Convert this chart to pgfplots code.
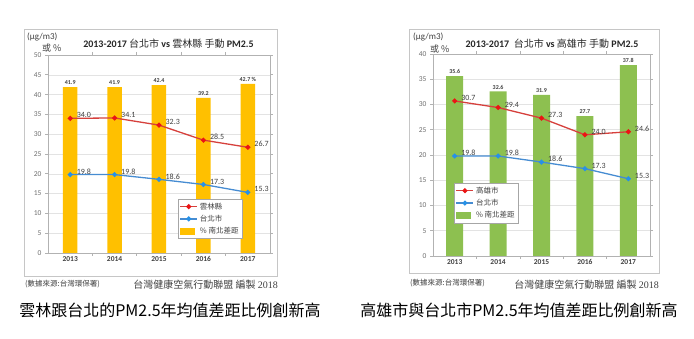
\documentclass[border=0pt]{standalone}
\usepackage{fontspec}
\setmainfont{Carlito}
\newfontfamily\cjk{Noto Sans CJK TC}
\newfontfamily\serif{Liberation Serif}
\usepackage{pgfplots}
\pgfplotsset{compat=1.18}
\definecolor{barY}{RGB}{255,192,0}
\definecolor{barG}{RGB}{141,192,80}
\definecolor{lnR}{RGB}{214,64,60}
\definecolor{mkR}{RGB}{235,20,20}
\definecolor{lnB}{RGB}{70,140,210}
\definecolor{mkB}{RGB}{40,145,230}
\definecolor{txt}{RGB}{64,64,64}
\definecolor{tick}{RGB}{110,110,110}
\pgfplotsset{
 mychart/.style={
  scale only axis, xmin=-0.5, xmax=4.5, ymin=0,
  xtick={0.5,1.5,2.5,3.5}, xticklabels={},
  extra x ticks={0,1,2,3,4},
  extra x tick labels={2013,2014,2015,2016,2017},
  extra x tick style={major tick length=0pt, grid=none},
  x tick label style={font=\bfseries\fontsize{7.5}{8}\selectfont, text=txt},
  y tick label style={font=\fontsize{7.5}{8}\selectfont, text=tick},
  /pgf/number format/assume math mode=true,
  ytick distance=5,
  ymajorgrids, grid style={gray!22, line width=0.5pt},
  axis line style={gray!60, line width=0.6pt},
  tick align=outside, major tick length=3pt,
  tick style={gray!60, line width=0.6pt},
  reverse legend,
  legend cell align=left,
  legend style={font=\cjk\fontsize{7.5}{8}\selectfont, draw=gray!70, fill=white,
    inner sep=1.5pt, row sep=0.5pt, text=txt},
 },
 linelab/.style={point meta=explicit symbolic, nodes near coords,
   every node near coord/.append style={anchor=west, xshift=5pt, yshift=3pt, inner sep=1pt,
   font=\fontsize{8}{9}\selectfont, text=txt}},
 barlab/.style={point meta=explicit symbolic, nodes near coords,
   every node near coord/.append style={font=\bfseries\fontsize{6}{7}\selectfont, text=txt, inner sep=2pt}},
}
\begin{document}
\begin{tikzpicture}
\useasboundingbox (0pt,0pt) rectangle (694pt,339pt);
\draw[gray!45, line width=0.8pt] (24pt,63pt) rectangle (277pt,310pt);
\draw[gray!45, line width=0.8pt] (409pt,66pt) rectangle (659pt,310pt);

% ---------- left chart ----------
\begin{axis}[mychart, at={(48pt,86pt)}, anchor=south west, width=222pt, height=198pt, ymax=50,
  legend style={at={(0.585,0.273)}, anchor=north west}]
\addplot[ybar, bar width=14.5pt, fill=barY, draw=none, barlab,
  legend image code/.code={\fill[barY] (0pt,-3.5pt) rectangle (15pt,3.5pt);}]
  coordinates {(0,41.9)[41.9] (1,41.9)[41.9] (2,42.4)[42.4] (3,39.2)[39.2] (4,42.7)[42.7 \%]};
\addlegendentry{\% 南北差距}
\addplot[lnB, line width=1.3pt, mark=*, mark size=1.8pt, mark options={fill=mkB, draw=mkB}, linelab]
  coordinates {(0,19.8)[19.8] (1,19.8)[19.8] (2,18.6)[18.6] (3,17.3)[17.3] (4,15.3)[15.3]};
\addlegendentry{台北市}
\addplot[lnR, line width=1.3pt, mark=*, mark size=1.8pt, mark options={fill=mkR, draw=mkR}, linelab]
  coordinates {(0,34.0)[34.0] (1,34.1)[34.1] (2,32.3)[32.3] (3,28.5)[28.5] (4,26.7)[26.7]};
\addlegendentry{雲林縣}
\end{axis}

% ---------- right chart ----------
\begin{axis}[mychart, at={(433pt,83pt)}, anchor=south west, width=217pt, height=202pt, ymax=40,
  legend style={at={(0.097,0.361)}, anchor=north west}]
\addplot[ybar, bar width=17pt, fill=barG, draw=none, barlab,
  legend image code/.code={\fill[barG] (0pt,-3.5pt) rectangle (15pt,3.5pt);}]
  coordinates {(0,35.6)[35.6] (1,32.6)[32.6] (2,31.9)[31.9] (3,27.7)[27.7] (4,37.8)[37.8]};
\addlegendentry{\% 南北差距}
\addplot[lnB, line width=1.3pt, mark=*, mark size=1.8pt, mark options={fill=mkB, draw=mkB}, linelab]
  coordinates {(0,19.8)[19.8] (1,19.8)[19.8] (2,18.6)[18.6] (3,17.3)[17.3] (4,15.3)[15.3]};
\addlegendentry{台北市}
\addplot[lnR, line width=1.3pt, mark=*, mark size=1.8pt, mark options={fill=mkR, draw=mkR}, linelab]
  coordinates {(0,30.7)[30.7] (1,29.4)[29.4] (2,27.3)[27.3] (3,24.0)[24.0] (4,24.6)[24.6]};
\addlegendentry{高雄市}
\end{axis}

% ---------- texts ----------
\node[font=\fontsize{10}{12}\selectfont, text=black!85] at (168.5pt,295pt)
  {\textbf{2013-2017} {\cjk 台北市} \textbf{vs} {\cjk 雲林縣 手動} \textbf{PM2.5}};
\node[font=\fontsize{10}{12}\selectfont, text=black!85] at (552pt,295pt)
  {\textbf{2013-2017} \ {\cjk 台北市} \textbf{vs} {\cjk 高雄市 手動} \textbf{PM2.5}};
\node[anchor=west, font=\fontsize{9}{10}\selectfont, text=txt, inner sep=0pt] at (27pt,302pt) {(μg/m3)};
\node[anchor=west, font=\cjk\fontsize{9}{10}\selectfont, text=txt, inner sep=0pt] at (42pt,291pt) {或 \%};
\node[anchor=west, font=\fontsize{9}{10}\selectfont, text=txt, inner sep=0pt] at (413pt,302pt) {(μg/m3)};
\node[anchor=west, font=\cjk\fontsize{9}{10}\selectfont, text=txt, inner sep=0pt] at (430pt,290pt) {或 \%};

\node[anchor=west, font=\cjk\fontsize{7.5}{9}\selectfont, text=txt, inner sep=0pt] at (25pt,55pt) {(數據來源:台灣環保署)};
\node[anchor=east, font=\cjk\fontsize{10}{12}\selectfont, text=txt, inner sep=0pt] at (278pt,54pt) {台灣健康空氣行動聯盟 編製 {\serif 2018}};
\node[anchor=west, font=\cjk\fontsize{7.5}{9}\selectfont, text=txt, inner sep=0pt] at (410pt,56pt) {(數據來源:台灣環保署)};
\node[anchor=east, font=\cjk\fontsize{10}{12}\selectfont, text=txt, inner sep=0pt] at (659pt,54pt) {台灣健康空氣行動聯盟 編製 {\serif 2018}};

\node[font=\cjk\fontsize{16}{18}\selectfont, text=black, inner sep=0pt] at (170pt,29pt) {雲林跟台北的PM2.5年均值差距比例創新高};
\node[font=\cjk\fontsize{16}{18}\selectfont, text=black, inner sep=0pt] at (519pt,29pt) {高雄市與台北市PM2.5年均值差距比例創新高};
\end{tikzpicture}
\end{document}
